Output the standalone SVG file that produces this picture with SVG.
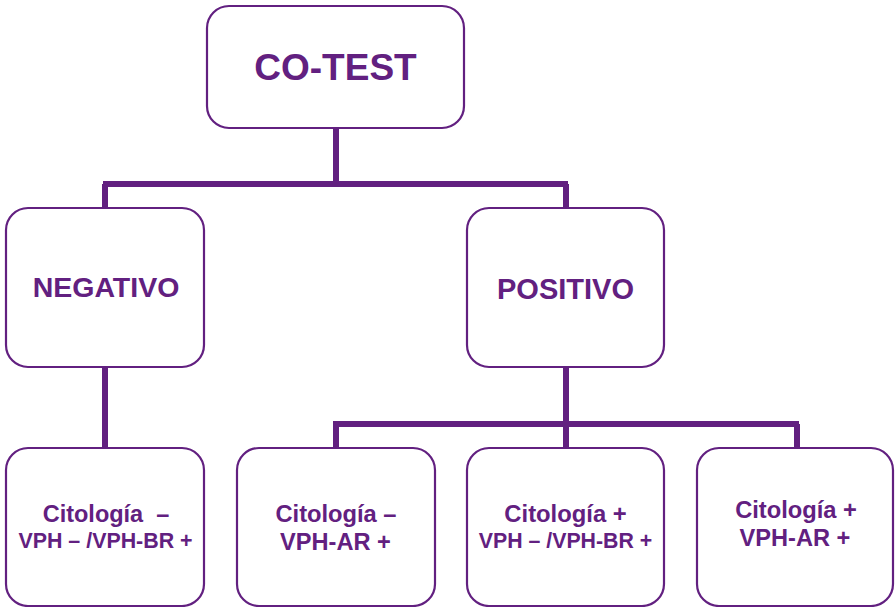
<svg xmlns="http://www.w3.org/2000/svg" width="895" height="607" viewBox="0 0 895 607">
<style>
.box{fill:#fff;stroke:#622080;stroke-width:2.2}
.c{fill:none;stroke:#622080;stroke-width:6}
text{font-family:"Liberation Sans",Arial,sans-serif;font-weight:bold;fill:#622080;text-anchor:middle;white-space:pre}
</style>
<rect width="895" height="607" fill="#fff"/>
<g id="connectors">
<path class="c" d="M336 128V184M103 184H568M105 184V208M566 184V208"/>
<path class="c" d="M105 367V448"/>
<path class="c" d="M566 367V448M333 424H799M336 424V448M797 424V448"/>
</g>
<g id="cotest"><rect class="box" x="207" y="6" width="257" height="122" rx="22"/><text x="335.5" y="80" font-size="37">CO-TEST</text></g>
<g id="negativo"><rect class="box" x="6" y="208" width="198" height="159" rx="22"/><text x="106" y="297" font-size="28.5">NEGATIVO</text></g>
<g id="positivo"><rect class="box" x="467" y="208" width="197" height="159" rx="22"/><text x="565.5" y="299" font-size="29">POSITIVO</text></g>
<g id="n1"><rect class="box" x="6" y="448" width="198" height="158" rx="22"/><text x="106" y="522" font-size="23.5">Citología  –</text><text x="105.5" y="548" font-size="21.4">VPH – /VPH-BR +</text></g>
<g id="n2"><rect class="box" x="237" y="448" width="198" height="158" rx="22"/><text x="336" y="522" font-size="23.7">Citología –</text><text x="335.5" y="550" font-size="23.6">VPH-AR +</text></g>
<g id="n3"><rect class="box" x="467" y="448" width="197" height="158" rx="22"/><text x="565.5" y="522" font-size="23.8">Citología +</text><text x="565.5" y="548" font-size="21.3">VPH – /VPH-BR +</text></g>
<g id="n4"><rect class="box" x="697" y="448" width="196" height="158" rx="22"/><text x="796" y="518" font-size="23.7">Citología +</text><text x="795" y="546" font-size="23.6">VPH-AR +</text></g>
</svg>
